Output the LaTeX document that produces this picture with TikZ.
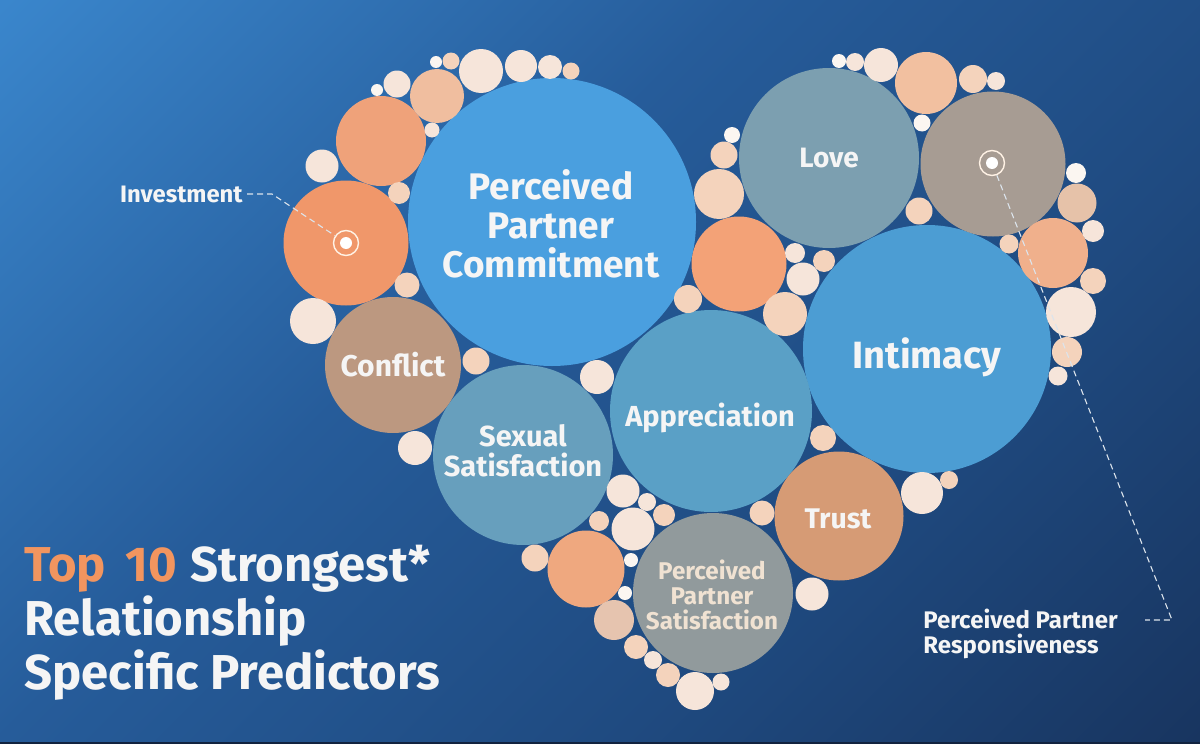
\documentclass[tikz,border=0pt]{standalone}
\usepackage{fontspec}
\setmainfont{Fira Sans}
\definecolor{bgA}{HTML}{3A86CC}
\definecolor{bgB}{HTML}{265C9A}
\definecolor{bgC}{HTML}{1F4A80}
\definecolor{bgD}{HTML}{183560}
\definecolor{stripb}{HTML}{12233F}
\definecolor{creamb}{HTML}{F6E5DA}
\definecolor{peachb}{HTML}{F4D3BC}
\definecolor{whiteb}{HTML}{FBF6F1}
\definecolor{topcol}{HTML}{F2955F}
\definecolor{commitb}{HTML}{4A9FDF}
\definecolor{intimb}{HTML}{4C9DD3}
\definecolor{apprecb}{HTML}{5AA0C6}
\definecolor{sexualb}{HTML}{679FBD}
\definecolor{loveb}{HTML}{7C9FB0}
\definecolor{responb}{HTML}{A79C93}
\definecolor{conflictb}{HTML}{BC9880}
\definecolor{trustb}{HTML}{D69B75}
\definecolor{psatb}{HTML}{919A9C}
\definecolor{psattext}{HTML}{F0E2D2}
\definecolor{investb}{HTML}{F0976A}
\definecolor{orangeA}{HTML}{EFA27A}
\definecolor{orangeB}{HTML}{F3A277}
\definecolor{orangeC}{HTML}{EFA87F}
\definecolor{orangeD}{HTML}{F0B08C}
\definecolor{orangeE}{HTML}{F2C0A0}
\definecolor{orangeF}{HTML}{F0BE9F}
\definecolor{duskA}{HTML}{E6C4AF}
\definecolor{duskB}{HTML}{E6C2A9}
\definecolor{leaderc}{HTML}{DCE4EC}
\pgfdeclareverticalshading{bgfade}{100bp}{color(0bp)=(bgD); color(25bp)=(bgD); color(40bp)=(bgC); color(56bp)=(bgB); color(75bp)=(bgA); color(100bp)=(bgA)}
\tikzset{
  bub/.style 2 args={circle,inner sep=0pt,minimum size=#2pt,fill=#1},
  word/.style 2 args={text=white!96!black,align=center,inner sep=0pt,font=\fontsize{#1}{#2}\selectfont\bfseries},
  ring/.style={circle,inner sep=0pt,draw=white!90!orange,line width=0.7pt,minimum size=#1pt},
  leader/.style={draw=leaderc,line width=0.55pt,dash pattern=on 3pt off 2pt},
}
\begin{document}
\begin{tikzpicture}[x=0.5pt,y=-0.5pt]
  \useasboundingbox (0,0) rectangle (1200,744);
  \begin{scope}
    \clip (0,0) rectangle (1200,744);
    \shade[shading=bgfade,shading angle=45] (-87.5,-315.5) rectangle (1287.5,1059.5);
    \fill[stripb] (0,741.5) rectangle (1200,744);
  \end{scope}
  % big circles
  \draw
    (552,222) node[bub={commitb}{144}] (commit){}
    (927,349) node[bub={intimb}{124}] (intimacy){}
    (711,411) node[bub={apprecb}{101}] (apprec){}
    (523,455) node[bub={sexualb}{90}] (sexual){}
    (829,158) node[bub={loveb}{90}] (love){}
    (993,164) node[bub={responb}{72.5}] (respon){}
    (393,365) node[bub={conflictb}{68}] (conflict){}
    (839,516) node[bub={trustb}{64.5}] (trust){}
    (713,593) node[bub={psatb}{80}] (psat){}
    (346,243) node[bub={investb}{62.5}] (invest){};
  % orange circles
  \draw
    (381,141) node[bub={orangeA}{45}] (o1){}
    (739,264) node[bub={orangeB}{47.5}] (o2){}
    (586,569) node[bub={orangeC}{38.5}] (o3){}
    (1053,253) node[bub={orangeD}{35}] (o4){}
    (926,83) node[bub={orangeE}{31}] (o5){}
    (437,96) node[bub={orangeF}{27}] (o6){}
    (614,620) node[bub={duskA}{20}] (o7){}
    (1077,203) node[bub={duskB}{19.5}] (o8){};
  % small bubbles, left side
  \draw
    (481,71) node[bub={creamb}{22}] (a1){}
    (521,66) node[bub={creamb}{16}] (a2){}
    (550,67) node[bub={creamb}{12}] (a3){}
    (571,71) node[bub={peachb}{8.5}] (a4){}
    (451,61) node[bub={peachb}{8.5}] (a5){}
    (436,62) node[bub={whiteb}{6}] (a6){}
    (397,84) node[bub={creamb}{13.5}] (a7){}
    (377,90) node[bub={whiteb}{6}] (a8){}
    (432,130) node[bub={creamb}{7.5}] (a9){}
    (322,166) node[bub={creamb}{16.5}] (a10){}
    (399,193) node[bub={peachb}{11}] (a11){}
    (407,285) node[bub={peachb}{12.5}] (a12){}
    (313,321) node[bub={creamb}{23}] (a13){}
    (476,361) node[bub={peachb}{13.5}] (a14){}
    (597,377) node[bub={creamb}{17}] (a15){}
    (415,448) node[bub={creamb}{17}] (a16){};
  % small bubbles, right side
  \draw
    (688,299) node[bub={peachb}{14}] (c1){}
    (881,65) node[bub={creamb}{17}] (c2){}
    (855,62) node[bub={creamb}{9}] (c3){}
    (839,61) node[bub={whiteb}{7}] (c4){}
    (973,79) node[bub={peachb}{14}] (c5){}
    (996,81) node[bub={creamb}{9}] (c6){}
    (922,123) node[bub={whiteb}{8.5}] (c7){}
    (732,135) node[bub={whiteb}{8}] (c8){}
    (724,155) node[bub={peachb}{13.5}] (c9){}
    (719,194) node[bub={peachb}{25}] (c10){}
    (919,211) node[bub={peachb}{13.5}] (c11){}
    (795,253) node[bub={creamb}{10}] (c12){}
    (824,261) node[bub={peachb}{11}] (c13){}
    (803,279) node[bub={creamb}{16.5}] (c14){}
    (785,314) node[bub={peachb}{22}] (c15){}
    (1076,173) node[bub={whiteb}{10}] (c16){}
    (1093,231) node[bub={creamb}{11}] (c17){}
    (1009,244) node[bub={peachb}{9.5}] (c18){}
    (1093,281) node[bub={peachb}{13}] (c19){}
    (1071,312) node[bub={creamb}{25}] (c20){}
    (1067,352) node[bub={peachb}{15}] (c21){}
    (1058,376) node[bub={creamb}{9.5}] (c22){};
  % small bubbles, bottom
  \draw
    (623,491) node[bub={creamb}{16.5}] (d1){}
    (647,502) node[bub={creamb}{9}] (d2){}
    (664,515) node[bub={peachb}{11}] (d3){}
    (633,529) node[bub={creamb}{21.5}] (d4){}
    (599,521) node[bub={peachb}{10}] (d5){}
    (631,560) node[bub={whiteb}{7}] (d6){}
    (535,558) node[bub={peachb}{13.5}] (d7){}
    (625,593) node[bub={whiteb}{7}] (d8){}
    (636,647) node[bub={peachb}{12}] (d9){}
    (653,660) node[bub={creamb}{9}] (d10){}
    (668,675) node[bub={peachb}{12}] (d11){}
    (695,691) node[bub={creamb}{19}] (d12){}
    (721,682) node[bub={creamb}{8.5}] (d13){}
    (812,594) node[bub={creamb}{16.5}] (d14){}
    (762,513) node[bub={peachb}{12.5}] (d15){}
    (823,438) node[bub={peachb}{13}] (d16){}
    (922,493) node[bub={creamb}{21}] (d17){}
    (949,480) node[bub={peachb}{9}] (d18){};
  % words
  \draw
    (551,224) node[word={18.5}{19.5}] (committext){Perceived\\Partner\\Commitment}
    (927,357) node[word={19}{19}] (intimacytext){Intimacy}
    (710,418) node[word={14.5}{14.5}] (apprectext){Appreciation}
    (523,451) node[word={14.5}{15}] (sexualtext){Sexual\\Satisfaction}
    (829,158) node[word={14}{14}] (lovetext){Love}
    (393,365) node[word={15}{15}] (conflicttext){Conflict}
    (838,519) node[word={14.2}{14.2}] (trusttext){Trust}
    (712,594.5) node[word={12.1}{12.5},text=psattext] (psattxt){Perceived\\Partner\\Satisfaction};
  % labels
  \draw
    (24,623) node[word={24.5}{27},anchor=west,align=left] (title){\textcolor{topcol}{Top\hspace{4pt} 10\hspace{1pt}} Strongest*\\Relationship\\Specific Predictors}
    (243,194) node[word={11.9}{12},anchor=east] (investlabel){Investment}
    (923,634) node[word={12}{12.5},anchor=west,align=left] (resplabel){Perceived Partner\\Responsiveness};
  % targets
  \draw
    (346,243) node[bub={white}{6}] (investdot){}
    (346,243) node[ring=12.5] (investring){}
    (992,163) node[bub={white}{6}] (respdot){}
    (992,163) node[ring=12.5] (respring){};
  \coordinate (investbend) at (272,194);
  \coordinate (respbend) at (1172,620);
  \coordinate (respend) at (1145,620);
  \draw[leader] ([xshift=2pt]investlabel.east) -- (investbend) -- (investring);
  \draw[leader] (respring) -- (respbend) -- (respend);
\end{tikzpicture}
\end{document}
